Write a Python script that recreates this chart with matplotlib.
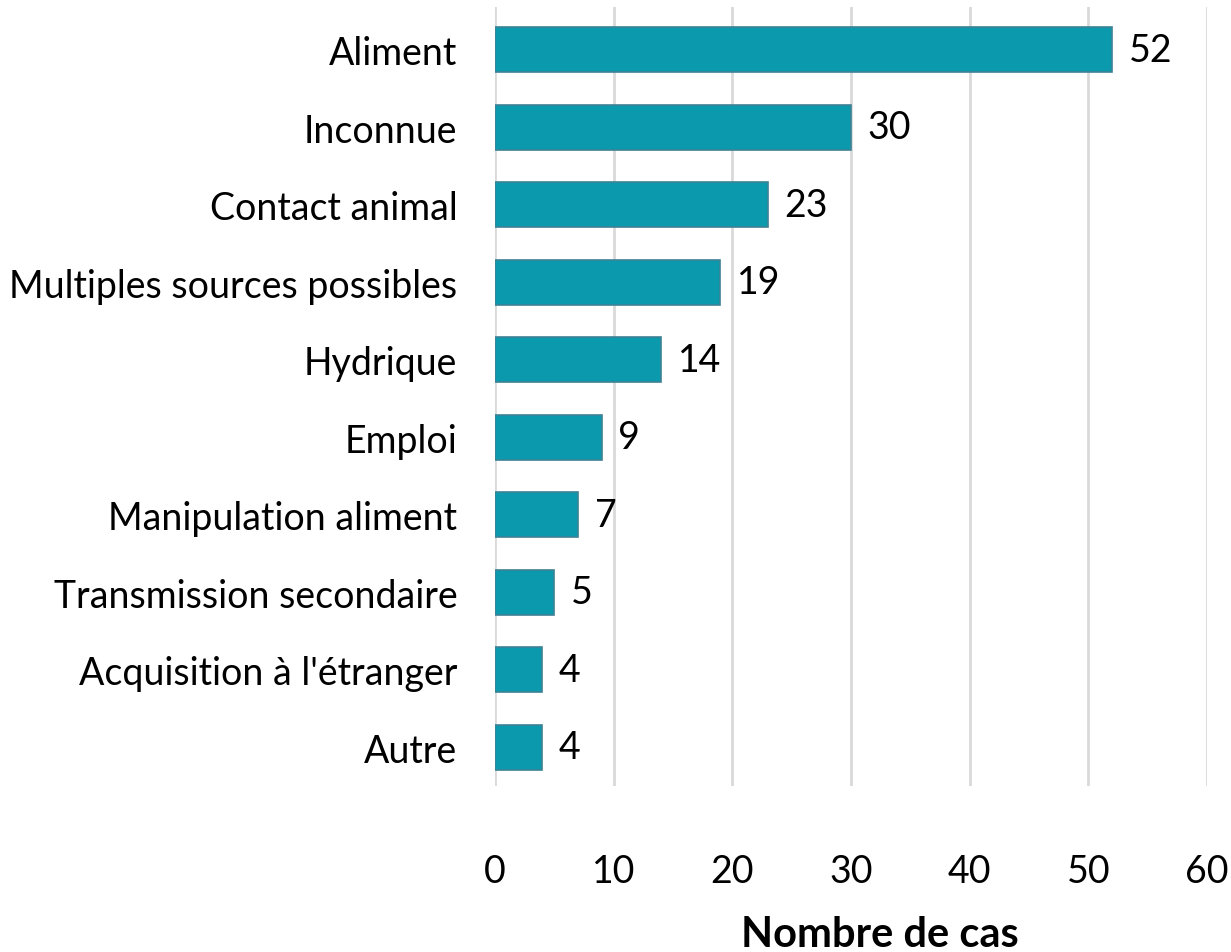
import matplotlib.pyplot as plt
import numpy as np

plt.rcParams['font.family'] = ['Lato', 'DejaVu Sans']

categories = ['Aliment', 'Inconnue', 'Contact animal', 'Multiples sources possibles',
              'Hydrique', 'Emploi', 'Manipulation aliment', 'Transmission secondaire',
              "Acquisition à l'étranger", 'Autre']
values = [52, 30, 23, 19, 14, 9, 7, 5, 4, 4]

fig = plt.figure(figsize=(12.31, 9.53), dpi=100)
ax = fig.add_axes([0.402, 0.174, 0.5785, 0.8176])

y = np.arange(len(categories))
ax.barh(y, values, height=0.58, color='#0A99AD', edgecolor='#3E8296', linewidth=1.2, zorder=3)

for yi, v in zip(y, values):
    ax.text(v + 1.4, yi, str(v), ha='left', va='center', fontsize=27, color='black')

ax.set_yticks(y, categories, fontsize=27)
ax.set_ylim(len(categories) - 0.5, -0.55)
ax.set_xlim(0, 60)
ax.set_xticks(np.arange(0, 61, 10))
ax.tick_params(axis='x', labelsize=27, length=0, pad=48)
ax.tick_params(axis='y', length=0, pad=27)
ax.grid(axis='x', color='#D9D9D9', linewidth=2, zorder=0)
for s in ax.spines.values():
    s.set_visible(False)

ax.set_xlabel('Nombre de cas', fontsize=30, fontweight='bold', va='center')
ax.xaxis.set_label_coords(0.54, -0.19)

plt.savefig('out.png', dpi=100, facecolor='white')
